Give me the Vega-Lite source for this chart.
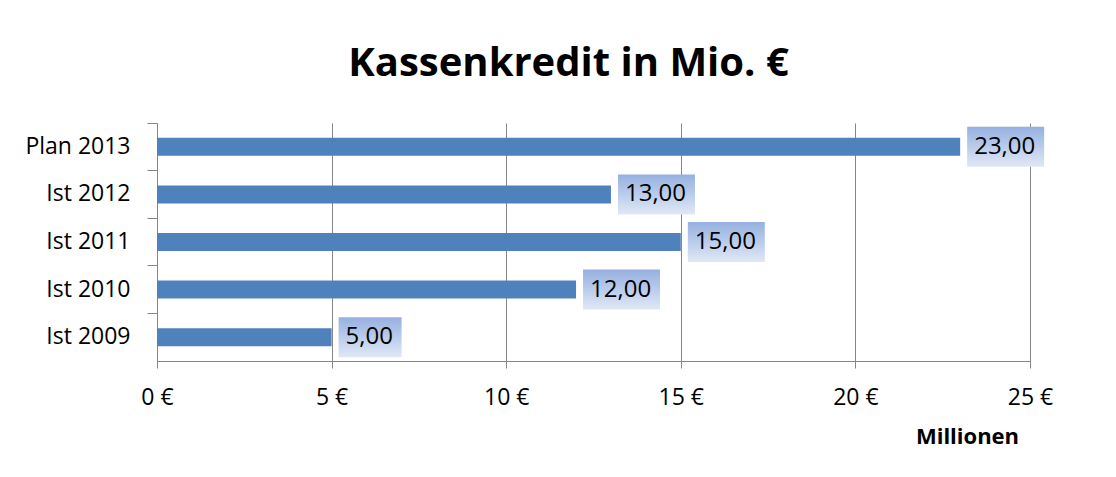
{
  "$schema": "https://vega.github.io/schema/vega-lite/v6.json",
  "width": 873,
  "height": 238,
  "autosize": {"type": "none"},
  "padding": {"left": 157, "top": 123, "right": 86, "bottom": 116},
  "background": "white",
  "title": {
    "text": "Kassenkredit in Mio. €",
    "font": "Open Sans",
    "fontSize": 40,
    "fontWeight": "bold",
    "color": "#000000",
    "anchor": "middle",
    "dx": -25,
    "offset": 7,
    "baseline": "alphabetic"
  },
  "data": {
    "values": [
      {"label": "Plan 2013", "value": 23},
      {"label": "Ist 2012", "value": 13},
      {"label": "Ist 2011", "value": 15},
      {"label": "Ist 2010", "value": 12},
      {"label": "Ist 2009", "value": 5}
    ]
  },
  "encoding": {
    "y": {
      "field": "label",
      "type": "nominal",
      "sort": ["Plan 2013", "Ist 2012", "Ist 2011", "Ist 2010", "Ist 2009"],
      "scale": {"paddingInner": 0, "paddingOuter": 0},
      "axis": {
        "title": null,
        "domainColor": "#868686",
        "tickColor": "#868686",
        "tickSize": 10,
        "bandPosition": 0,
        "labelFont": "Open Sans",
        "labelFontSize": 23,
        "labelColor": "#000000",
        "labelPadding": 17,
        "grid": false,
        "labelOverlap": false
      }
    }
  },
  "layer": [
    {
      "mark": {"type": "bar", "size": 18, "color": "#4f81bd"},
      "encoding": {
        "x": {
          "field": "value",
          "type": "quantitative",
          "scale": {"domain": [0, 25], "nice": false},
          "axis": {
            "title": "Millionen",
            "titleFont": "Open Sans",
            "titleFontSize": 22,
            "titleFontWeight": "bold",
            "titleColor": "#000000",
            "titleX": 810,
            "titleY": 82,
            "titleAlign": "center",
            "titleBaseline": "alphabetic",
            "values": [0, 5, 10, 15, 20, 25],
            "labelExpr": "datum.value + ' €'",
            "labelFont": "Open Sans",
            "labelFontSize": 23,
            "labelColor": "#000000",
            "labelBaseline": "alphabetic",
            "labelPadding": 36,
            "labelFlush": false,
            "labelOverlap": false,
            "tickSize": 7,
            "tickColor": "#868686",
            "domainColor": "#868686",
            "grid": true,
            "gridColor": "#868686",
            "gridOpacity": 1
          }
        }
      }
    },
    {
      "transform": [{"filter": "datum.value >= 10"}],
      "mark": {
        "type": "bar",
        "size": 40,
        "xOffset": 7,
        "x2Offset": 84,
        "fill": {
          "gradient": "linear",
          "x1": 0, "y1": 0, "x2": 0, "y2": 1,
          "stops": [
            {"offset": 0, "color": "#95b0e0"},
            {"offset": 1, "color": "#e0e8f6"}
          ]
        }
      },
      "encoding": {
        "x": {"field": "value", "type": "quantitative"},
        "x2": {"field": "value"}
      }
    },
    {
      "transform": [{"filter": "datum.value < 10"}],
      "mark": {
        "type": "bar",
        "size": 40,
        "xOffset": 7,
        "x2Offset": 70,
        "fill": {
          "gradient": "linear",
          "x1": 0, "y1": 0, "x2": 0, "y2": 1,
          "stops": [
            {"offset": 0, "color": "#95b0e0"},
            {"offset": 1, "color": "#e0e8f6"}
          ]
        }
      },
      "encoding": {
        "x": {"field": "value", "type": "quantitative"},
        "x2": {"field": "value"}
      }
    },
    {
      "mark": {
        "type": "text",
        "align": "left",
        "dx": 14,
        "font": "Open Sans",
        "fontSize": 24,
        "color": "#000000"
      },
      "encoding": {
        "x": {"field": "value", "type": "quantitative"},
        "text": {"field": "value", "type": "quantitative", "format": ".2f"}
      }
    }
  ],
  "config": {
    "locale": {
      "number": {
        "decimal": ",",
        "thousands": ".",
        "grouping": [3],
        "currency": ["", " €"]
      }
    },
    "view": {"stroke": null}
  }
}
